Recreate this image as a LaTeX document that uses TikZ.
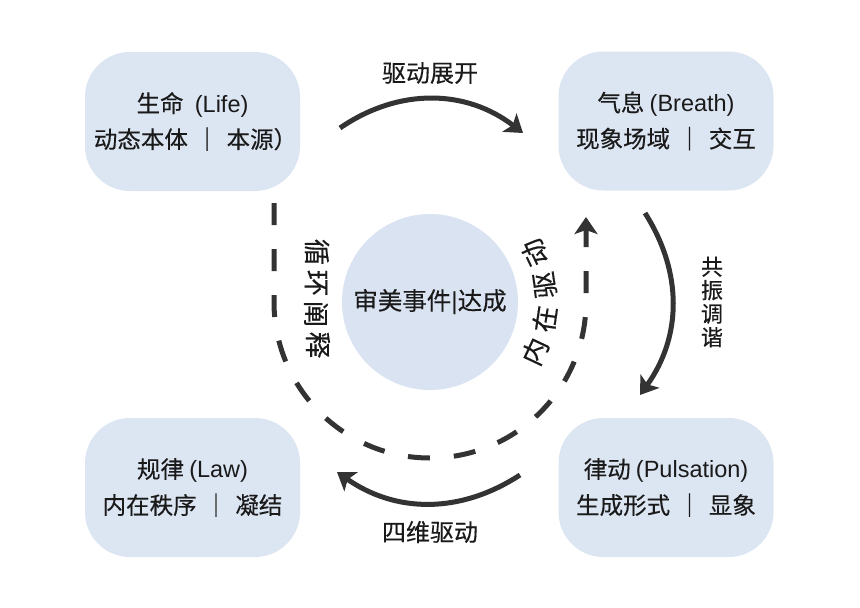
\documentclass[tikz,border=0pt]{standalone}
\usepackage{fontspec}
\setmainfont{Noto Sans CJK SC}[RawFeature={embolden=0.3}]
\newfontfamily\lat{Liberation Sans}
\usetikzlibrary{arrows.meta}
\definecolor{boxfill}{HTML}{DCE5F2}
\definecolor{circfill}{HTML}{D9E3F2}
\definecolor{ink}{HTML}{1A1A1A}
\definecolor{arr}{HTML}{333333}
\tikzset{
  box/.style={fill=boxfill, rounded corners=45pt, minimum width=215pt, minimum height=139pt, inner sep=0pt, align=center, text=ink, font=\fontsize{23.5}{36}\selectfont},
  hub/.style={circle, fill=circfill, minimum size=176pt, inner sep=0pt, text=ink, font=\fontsize{24.5}{27}\selectfont},
  lbl/.style={text=ink, font=\fontsize{24}{27}\selectfont, inner sep=0pt},
  rch/.style={text=ink, font=\fontsize{26.5}{28}\selectfont, inner sep=0pt},
  solidarrow/.style={draw=arr, line width=5pt, -{Stealth[length=17pt,width=23pt,inset=4pt]}},
  dashedarrow/.style={draw=arr, line width=5pt, dash pattern=on 22pt off 24pt, -{Stealth[length=17pt,width=23pt,inset=4pt]}}
}
\begin{document}
\begin{tikzpicture}[x=1pt,y=1pt]
\useasboundingbox (0,0) rectangle (860,-608);
\fill[white] (0,0) rectangle (860,-608);

\node[box] (life) at (192.5,-121.5) {生命\hspace{6pt} {\lat (Life)}\\\hspace{6pt}动态本体\hspace{0.1em} ｜ \hspace{0.1em}本源）};
\node[box] (breath) at (666,-121) {气息 {\lat (Breath)}\\现象场域\hspace{0.1em} ｜ \hspace{0.1em}交互};
\node[box] (law) at (192.5,-487.5) {规律 {\lat (Law)}\\内在秩序\hspace{0.1em} ｜ \hspace{0.1em}凝结};
\node[box] (puls) at (666,-487.5) {律动 {\lat (Pulsation)}\\生成形式\hspace{0.1em} ｜ \hspace{0.1em}显象};

\node[hub] (hub) at (430,-302) {审美事件{\lat |}达成};

% solid arrows
\coordinate (a1s) at (340,-128);
\coordinate (a1e) at (523,-133);
\coordinate (a2s) at (645,-213);
\coordinate (a2e) at (640,-395);
\coordinate (a3s) at (520,-475);
\coordinate (a3e) at (337,-472);
\draw[solidarrow] (a1s) to[bend left=36] (a1e);
\draw[solidarrow] (a2s) to[bend left=34] (a2e);
\draw[solidarrow] (a3s) to[bend left=34] (a3e);

\node[lbl] (l1) at (430,-73) {驱动展开};
\node[lbl] (l3) at (430,-532) {四维驱动};
\node[lbl, align=center, font=\fontsize{22}{23.5}\selectfont] (l2) at (712,-302) {共\\振\\调\\谐};

% dashed loop
\coordinate (ds) at (274,-203);
\coordinate (de) at (586,-217);
\draw[dashedarrow] (ds) -- (274,-302) arc[start angle=180, end angle=360, radius=156] -- (de);

% left rotated text
\node[rch, rotate=-90] (c1) at (317,-252) {循};
\node[rch, rotate=-90] (c2) at (316,-283) {环};
\node[rch, rotate=-90] (c3) at (316,-314) {阐};
\node[rch, rotate=-90] (c4) at (318,-345) {释};

% right curved text
\node[rch, rotate=64.8] (d1) at (534.97,-351.39) {内};
\node[rch, rotate=81.6] (d2) at (544.76,-318.95) {在};
\node[rch, rotate=98.4] (d3) at (544.76,-285.05) {驱};
\node[rch, rotate=115.2] (d4) at (534.97,-252.61) {动};
\end{tikzpicture}
\end{document}
